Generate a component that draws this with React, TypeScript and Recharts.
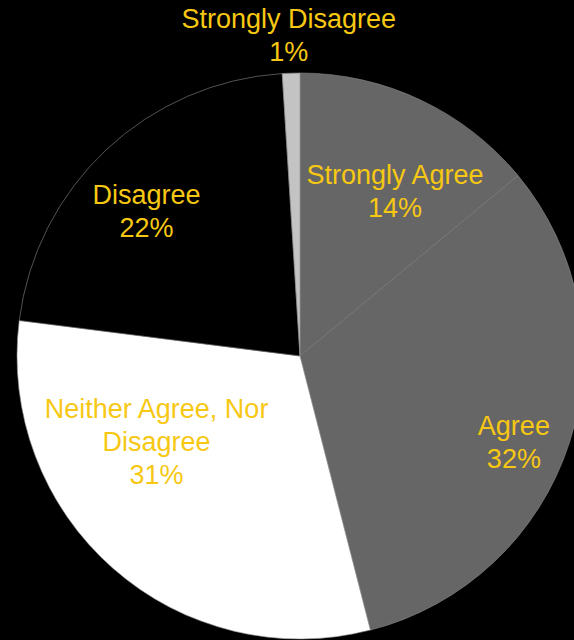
import React from "react";
import { PieChart, Pie, Cell } from "recharts";

const CATEGORIES = [
  "Strongly Agree",
  "Agree",
  "Neither Agree, Nor Disagree",
  "Disagree",
  "Strongly Disagree",
];
const VALUES = [14, 32, 31, 22, 1];
const SLICE_COLORS = ["#666666", "#666666", "#ffffff", "#000000", "#c3c3c3"];

// label placement tweaks (fraction of radius, clockwise angle shift in degrees)
const LABEL_RADIUS = [0.673, 0.814, 0.59, 0.746, 1.135];
const LABEL_ANGLE_SHIFT = [4.7, 3.8, 17.8, -3.4, -0.2];

const LABEL_COLOR = "#f7c813";
const FONT_SIZE = 27;
const LINE_GAP = 33;
const CAP = 19.5;
const RAD = Math.PI / 180;

const data = CATEGORIES.map((name, i) => ({ name, value: VALUES[i] }));

function wrap(text: string, max: number): string[] {
  const words = text.split(" ");
  const lines: string[] = [];
  let cur = "";
  for (const w of words) {
    const next = cur ? cur + " " + w : w;
    if (next.length > max && cur) {
      lines.push(cur);
      cur = w;
    } else {
      cur = next;
    }
  }
  if (cur) lines.push(cur);
  return lines;
}

const renderLabel = (props: any) => {
  const { cx, cy, midAngle, outerRadius, index, name, value } = props;
  const angle = (midAngle - LABEL_ANGLE_SHIFT[index]) * RAD;
  const r = outerRadius * LABEL_RADIUS[index];
  const x = cx + r * Math.cos(angle);
  const y = cy - r * Math.sin(angle);
  const lines = [...wrap(name, 18), `${value}%`];
  const first = y - ((lines.length - 1) * LINE_GAP) / 2 + CAP / 2;
  return (
    <text
      key={`lbl-${index}`}
      x={x}
      y={first}
      textAnchor="middle"
      fill={LABEL_COLOR}
      fontSize={FONT_SIZE}
      fontFamily="'Liberation Sans', Arial, sans-serif"
    >
      {lines.map((l, i) => (
        <tspan key={i} x={x} y={first + i * LINE_GAP}>
          {l}
        </tspan>
      ))}
    </text>
  );
};

export default function App() {
  return (
    <div
      style={{
        position: "absolute",
        left: 0,
        top: 0,
        width: 574,
        height: 640,
        background: "#000",
        overflow: "hidden",
      }}
    >
      <PieChart
        width={574}
        height={640}
        margin={{ top: 0, right: 0, bottom: 0, left: 0 }}
      >
        <Pie
          data={data}
          dataKey="value"
          nameKey="name"
          cx={300}
          cy={356}
          outerRadius={283}
          startAngle={90}
          endAngle={-270}
          isAnimationActive={false}
          labelLine={false}
          label={renderLabel}
        >
          {data.map((d, i) => (
            <Cell
              key={d.name}
              fill={SLICE_COLORS[i]}
              stroke="#8a8a8a"
              strokeWidth={0.6}
            />
          ))}
        </Pie>
      </PieChart>
    </div>
  );
}
